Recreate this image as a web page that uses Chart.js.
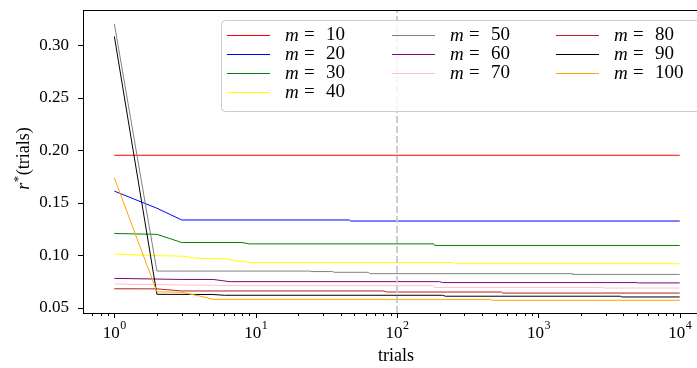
<!DOCTYPE html>
<html>
<head>
<meta charset="utf-8">
<script src="https://cdn.jsdelivr.net/npm/chart.js@4.4.1/dist/chart.umd.min.js"></script>
<style>
  html, body { margin: 0; padding: 0; background: #fff; overflow: hidden; }
  #wrap { width: 720px; height: 368px; }
</style>
</head>
<body>
<div id="wrap"><canvas id="rChart" width="720" height="368"></canvas></div>
<script>
// series: each m has its own trial breakpoints (log x) and r* values
const mLabels = ['10', '20', '30', '40', '50', '60', '70', '80', '90', '100'];
const mColors = ['#ff0000', '#0000ff', '#008000', '#ffff00', '#808080', '#800080', '#ffc0cb', '#b22222', '#000000', '#ffa500'];

const m10Trials = [1, 10000];
const m10Values = [0.1952, 0.1952];
const m20Trials = [1, 2, 3, 46, 47, 10000];
const m20Values = [0.161, 0.1447, 0.1335, 0.1335, 0.1325, 0.1325];
const m30Trials = [1, 2, 3, 8, 9, 182, 185, 10000];
const m30Values = [0.1206, 0.1198, 0.112, 0.112, 0.1107, 0.1107, 0.1092, 0.1092];
const m40Trials = [1, 2, 3, 4, 6, 9, 250, 260, 10000];
const m40Values = [0.101, 0.0995, 0.099, 0.0968, 0.0965, 0.093, 0.093, 0.0918, 0.0918];
const m50Trials = [1, 2, 24, 25, 35, 36, 63, 64, 1740, 1750, 10000];
const m50Values = [0.3206, 0.0848, 0.0848, 0.0843, 0.0843, 0.0836, 0.0836, 0.0823, 0.0823, 0.0816, 0.0816];
const m60Trials = [1, 3, 5, 6.5, 200, 210, 5000, 5100, 10000];
const m60Values = [0.0778, 0.0768, 0.0768, 0.0747, 0.0747, 0.0738, 0.0738, 0.0735, 0.0735];
const m70Trials = [1, 3, 9, 178, 185, 2800, 2900, 10000];
const m70Values = [0.0724, 0.0715, 0.0708, 0.0708, 0.0692, 0.0692, 0.0686, 0.0686];
const m80Trials = [1, 2, 3, 80, 85, 550, 560, 10000];
const m80Values = [0.0679, 0.0678, 0.0658, 0.0658, 0.0648, 0.0648, 0.0638, 0.0638];
const m90Trials = [1, 2, 5, 6, 210, 220, 3800, 3900, 10000];
const m90Values = [0.3085, 0.0626, 0.0624, 0.0617, 0.0617, 0.0608, 0.0608, 0.0601, 0.0601];
const m100Trials = [1, 2, 3, 4, 5, 460, 470, 10000];
const m100Values = [0.1736, 0.065, 0.0645, 0.061, 0.0578, 0.0578, 0.0569, 0.0569];

const seriesTrials = [m10Trials, m20Trials, m30Trials, m40Trials, m50Trials, m60Trials, m70Trials, m80Trials, m90Trials, m100Trials];
const seriesValues = [m10Values, m20Values, m30Values, m40Values, m50Values, m60Values, m70Values, m80Values, m90Values, m100Values];

// axes
const xMin = Math.pow(10, -0.2);
const xMax = Math.pow(10, 4.2);
const yMin = 0.0448;
const yMax = 0.3337;
const xMajorTicks = [1, 10, 100, 1000, 10000];
const xExponents = ['0', '1', '2', '3', '4'];
const yTicks = [0.05, 0.10, 0.15, 0.20, 0.25, 0.30];
const markerTrials = [100, 100];

const serif = "'Liberation Serif', 'DejaVu Serif', serif";

const datasets = seriesTrials.map((tr, i) => ({
    label: 'm = ' + mLabels[i],
    data: tr.map((t, k) => ({ x: t, y: seriesValues[i][k] })),
    borderColor: mColors[i],
    backgroundColor: mColors[i],
    borderWidth: 1,
    pointRadius: 0,
    tension: 0,
    fill: false,
    order: 20 - i
}));
datasets.push({
    label: 'marker',
    data: [{ x: markerTrials[0], y: yMin }, { x: markerTrials[1], y: yMax }],
    borderColor: 'rgba(200,200,200,0.9)',
    borderWidth: 2,
    borderDash: [7, 3],
    pointRadius: 0,
    fill: false,
    order: 0
});

// minor ticks of the log axis
const xMinorTicks = [];
for (let e = -1; e <= 4; e++) {
    for (let k = 2; k <= 9; k++) {
        const v = k * Math.pow(10, e);
        if (v >= xMin && v <= xMax) xMinorTicks.push(v);
    }
}

const decor = {
    id: 'decor',
    afterDatasetsDraw(chart) {
        const { ctx, chartArea: a } = chart;
        const xs = chart.scales.x, ys = chart.scales.y;
        ctx.save();
        ctx.strokeStyle = '#000';
        ctx.fillStyle = '#000';
        ctx.lineWidth = 1;
        ctx.strokeRect(a.left + 0.5, a.top + 0.5, a.right - a.left, a.bottom - a.top);

        // ticks
        ctx.beginPath();
        xMajorTicks.forEach(v => {
            const px = Math.round(xs.getPixelForValue(v)) + 0.5;
            ctx.moveTo(px, a.bottom); ctx.lineTo(px, a.bottom + 5);
        });
        xMinorTicks.forEach(v => {
            const px = Math.round(xs.getPixelForValue(v)) + 0.5;
            ctx.moveTo(px, a.bottom); ctx.lineTo(px, a.bottom + 3);
        });
        yTicks.forEach(v => {
            const py = Math.round(ys.getPixelForValue(v)) + 0.5;
            ctx.moveTo(a.left, py); ctx.lineTo(a.left - 5, py);
        });
        ctx.stroke();

        // x tick labels 10^e
        ctx.textBaseline = 'middle';
        xMajorTicks.forEach((v, i) => {
            const px = xs.getPixelForValue(v);
            ctx.font = '17px ' + serif;
            const w1 = ctx.measureText('10').width;
            ctx.font = '12px ' + serif;
            const w2 = ctx.measureText(xExponents[i]).width;
            const x0 = px - (w1 + w2) / 2;
            ctx.font = '17px ' + serif;
            ctx.textAlign = 'left';
            ctx.fillText('10', x0, a.bottom + 21);
            ctx.font = '12px ' + serif;
            ctx.fillText(xExponents[i], x0 + w1 + 0.5, a.bottom + 13);
        });

        // y tick labels
        ctx.font = '17px ' + serif;
        ctx.textAlign = 'right';
        yTicks.forEach(v => {
            ctx.fillText(v.toFixed(2), a.left - 14, ys.getPixelForValue(v));
        });

        // axis titles
        ctx.textAlign = 'center';
        ctx.font = '18px ' + serif;
        ctx.fillText('trials', 396, 356);

        ctx.save();
        ctx.translate(24, 159);
        ctx.rotate(-Math.PI / 2);
        ctx.font = 'italic 18px ' + serif;
        const wr = ctx.measureText('r').width;
        ctx.font = '13px ' + serif;
        const ws = ctx.measureText('*').width;
        ctx.font = '18px ' + serif;
        const wt = ctx.measureText('(trials)').width;
        let x0 = -(wr + ws + wt) / 2;
        ctx.textAlign = 'left';
        ctx.font = 'italic 18px ' + serif;
        ctx.fillText('r', x0, 0);
        ctx.font = '13px ' + serif;
        ctx.fillText('*', x0 + wr + 0.5, -5);
        ctx.font = '18px ' + serif;
        ctx.fillText('(trials)', x0 + wr + ws + 1, 0);
        ctx.restore();

        // legend, column-major, 4 rows
        const lx = 221, ly = 20, lw = 520, lh = 91;
        ctx.beginPath();
        ctx.roundRect(lx + 0.5, ly + 0.5, lw, lh, 4);
        ctx.fillStyle = 'rgba(255,255,255,0.8)';
        ctx.fill();
        ctx.strokeStyle = '#cccccc';
        ctx.stroke();
        const colX = [227, 392, 556];
        const rowY = [35.5, 54.5, 73.5, 92.5];
        const cols = [[0, 1, 2, 3], [4, 5, 6], [7, 8, 9]];
        cols.forEach((col, c) => {
            col.forEach((idx, r) => {
                const yy = rowY[r];
                ctx.beginPath();
                ctx.strokeStyle = mColors[idx];
                ctx.lineWidth = 1;
                ctx.moveTo(colX[c], yy); ctx.lineTo(colX[c] + 43, yy);
                ctx.stroke();
                ctx.fillStyle = '#000';
                ctx.textAlign = 'left';
                ctx.font = 'italic 19px ' + serif;
                const tx = colX[c] + 58;
                ctx.fillText('m', tx, yy);
                ctx.font = '19px ' + serif;
                ctx.fillText('=', tx + 19, yy);
                ctx.fillText(mLabels[idx], tx + 41, yy);
            });
        });
        ctx.restore();
    }
};

new Chart(document.getElementById('rChart').getContext('2d'), {
    type: 'line',
    data: { datasets: datasets },
    options: {
        responsive: false,
        animation: false,
        layout: { padding: { top: 10, right: 12, left: 0, bottom: 0 } },
        plugins: { legend: { display: false }, tooltip: { enabled: false } },
        scales: {
            x: {
                type: 'logarithmic',
                min: xMin,
                max: xMax,
                grid: { display: false, drawTicks: false },
                border: { display: false },
                ticks: { display: false },
                afterFit(scale) { scale.height = 55; }
            },
            y: {
                type: 'linear',
                min: yMin,
                max: yMax,
                grid: { display: false, drawTicks: false },
                border: { display: false },
                ticks: { display: false },
                afterFit(scale) { scale.width = 83; }
            }
        }
    },
    plugins: [decor]
});
</script>
</body>
</html>
